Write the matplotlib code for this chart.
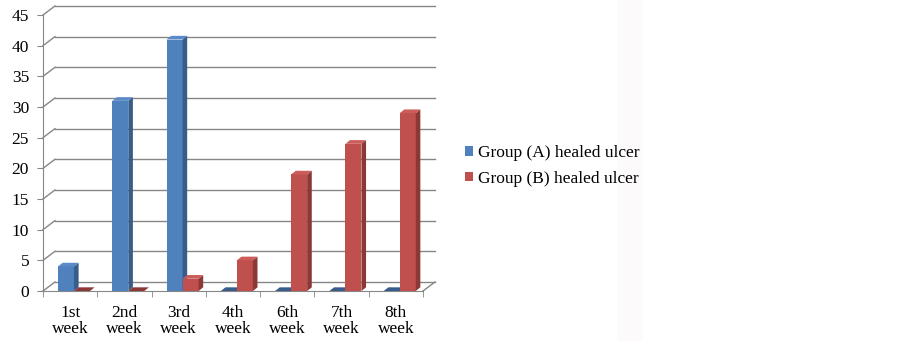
import matplotlib.pyplot as plt
import numpy as np
from matplotlib.patches import Polygon, Patch, Rectangle

weeks = ['1st\nweek', '2nd\nweek', '3rd\nweek', '4th\nweek',
         '6th\nweek', '7th\nweek', '8th\nweek']
group_a = [4, 31, 41, 0, 0, 0, 0]
group_b = [0, 0, 2, 5, 19, 24, 29]
labels = ['Group (A) healed ulcer', 'Group (B) healed ulcer']
yticks = [0, 5, 10, 15, 20, 25, 30, 35, 40, 45]

plt.rcParams['font.family'] = ['Liberation Serif', 'DejaVu Serif']

fig = plt.figure(figsize=(9.03, 3.41), dpi=100)
fig.patches.append(Rectangle((617 / 903, 0), 26 / 903, 1, transform=fig.transFigure,
                             facecolor='#fcfafa', edgecolor='none', zorder=0))
ax = fig.add_axes([43 / 903, 50 / 341, 380 / 903, 276 / 341])
ax.set_xlim(-0.5, len(weeks) - 0.5)
ax.set_ylim(0, 45)

grid_c = '#868686'
# depth of the back wall and of the bars, in data units
wall_dx, wall_dy = 0.22, 1.47
bar_dx, bar_dy = 0.085, 0.6

# back wall gridlines and left wall diagonals
x_left, x_right = -0.5, len(weeks) - 0.5
for v in yticks:
    ax.plot([x_left + wall_dx, x_right + wall_dx], [v + wall_dy, v + wall_dy],
            color=grid_c, lw=1, zorder=1, clip_on=False)
    ax.plot([x_left, x_left + wall_dx], [v, v + wall_dy],
            color=grid_c, lw=1, zorder=1, clip_on=False)
ax.plot([x_right, x_right + wall_dx], [0, wall_dy], color=grid_c, lw=1,
        zorder=1, clip_on=False)

x = np.arange(len(weeks))
w = 0.295
colors = [('#4F81BD', '#385D8A', '#5A8BC8'), ('#C0504D', '#8C3836', '#CB5C59')]
z = 3
for i in range(len(weeks)):
    for k, (vals, off) in enumerate([(group_a, -0.224), (group_b, -0.224 + w)]):
        face, side, top = colors[k]
        x0 = x[i] + off
        h = vals[i]
        ax.bar(x0, h, width=w, align='edge', color=face, edgecolor='none',
               zorder=z, clip_on=False)
        ax.add_patch(Polygon([(x0 + w, 0), (x0 + w, h), (x0 + w + bar_dx, h + bar_dy),
                              (x0 + w + bar_dx, bar_dy)], closed=True,
                             facecolor=side, edgecolor='none', zorder=z, clip_on=False))
        ax.add_patch(Polygon([(x0, h), (x0 + w, h), (x0 + w + bar_dx, h + bar_dy),
                              (x0 + bar_dx, h + bar_dy)], closed=True,
                             facecolor=top if h > 0 else side, edgecolor='none',
                             zorder=z, clip_on=False))
        z += 1

ax.spines['top'].set_visible(False)
ax.spines['right'].set_visible(False)
for s in ['left', 'bottom']:
    ax.spines[s].set_color(grid_c)
    ax.spines[s].set_zorder(2)

ax.set_yticks(yticks)
ax.set_xticks(np.arange(len(weeks) + 1) - 0.5, minor=True)
ax.set_xticks(x)
ax.set_xticklabels(weeks, fontsize=12.5, linespacing=1.0)
ax.tick_params(axis='x', which='major', length=0, pad=10)
ax.tick_params(axis='x', which='minor', length=4, color=grid_c)
ax.tick_params(axis='y', length=4, color=grid_c, pad=6, labelsize=12.5)

handles = [Patch(facecolor=c[0], edgecolor='none') for c in colors]
fig.legend(handles, labels, loc='center left', bbox_to_anchor=(465 / 903, 1 - 166 / 341),
           frameon=False, fontsize=12.5, handlelength=0.45, handleheight=0.45,
           handletextpad=0.3, labelspacing=0.55, borderpad=0, borderaxespad=0)

fig.savefig('out.png', dpi=100)
